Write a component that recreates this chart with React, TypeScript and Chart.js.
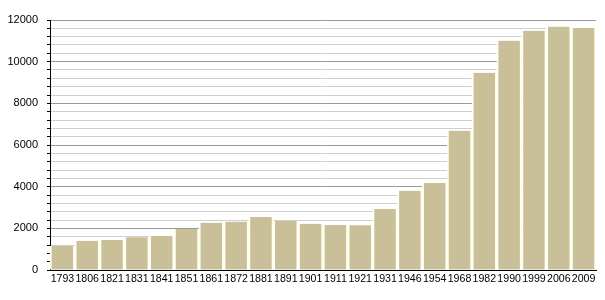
import React, { useEffect, useRef } from "react";
import { Chart, registerables } from "chart.js";

Chart.register(...registerables);

const years = ["1793","1806","1821","1831","1841","1851","1861","1872","1881","1891","1901","1911","1921","1931","1946","1954","1968","1982","1990","1999","2006","2009"];
const population = [1170,1400,1440,1570,1630,1970,2270,2320,2540,2370,2220,2160,2150,2930,3810,4180,6690,9470,11010,11490,11680,11620];
const yMax = 12000;
const yStep = 400;
const yLabelStep = 2000;

export default function App() {
  const ref = useRef<HTMLCanvasElement | null>(null);
  useEffect(() => {
    if (!ref.current) return;
    const chart = new Chart(ref.current, {
      type: "bar",
      data: {
        labels: years,
        datasets: [{
          data: population,
          backgroundColor: "#c9bf98",
          borderColor: "#fffff2",
          borderWidth: { left: 2, right: 2, top: 0, bottom: 0 },
          borderSkipped: false,
          categoryPercentage: 1,
          barPercentage: 1,
        }],
      },
      options: {
        animation: false,
        responsive: false,
        maintainAspectRatio: false,
        layout: { padding: { top: 20, right: 9, bottom: 0, left: 0 } },
        plugins: { legend: { display: false }, tooltip: { enabled: false } },
        scales: {
          x: {
            grid: { display: false, drawTicks: false, tickLength: 0 },
            border: { color: "#000", width: 1 },
            ticks: { color: "#000", font: { family: "Liberation Sans", size: 10.6 }, padding: 3, maxRotation: 0, minRotation: 0, autoSkip: false },
            afterFit: (s: any) => { s.height = 30; },
          },
          y: {
            min: 0,
            max: yMax,
            border: { color: "#000", width: 1 },
            grid: {
              color: (ctx: any) => (ctx.tick && ctx.tick.value % yLabelStep === 0 ? "#9a9a9a" : "#cfcfcf"),
              tickColor: "#000",
              tickLength: 3,
              lineWidth: 1,
            },
            ticks: {
              stepSize: yStep,
              maxTicksLimit: 100,
              autoSkip: false,
              color: "#000",
              padding: 9,
              font: { family: "Liberation Sans", size: 11 },
              callback: (v: any) => (Number(v) % yLabelStep === 0 ? String(v) : ""),
            },
            afterFit: (s: any) => { s.width = 50; },
          },
        },
      },
    });
    return () => chart.destroy();
  }, []);
  return (
    <div style={{ position: "fixed", left: 0, top: 0, width: 605, height: 300, background: "#fff" }}>
      <canvas ref={ref} width={605} height={300} style={{ width: 605, height: 300 }} />
    </div>
  );
}
